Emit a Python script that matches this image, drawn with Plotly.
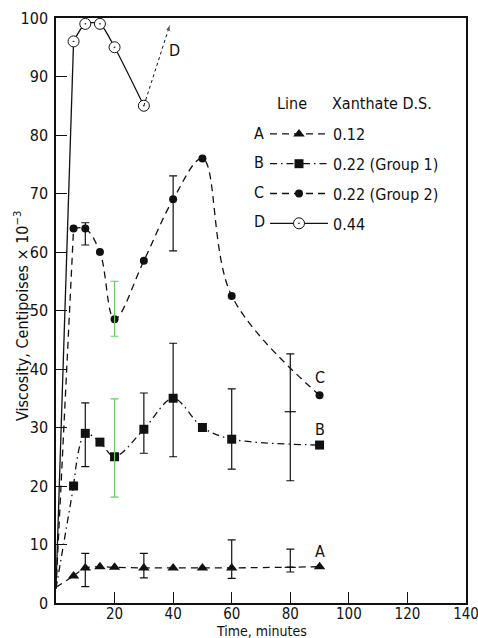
import plotly.graph_objects as go

# ---------------- data ----------------
t_pts = [6, 10, 15, 20, 30, 40, 50, 60, 90]
v_A = [4.6, 6.0, 6.2, 6.1, 6.0, 6.0, 6.0, 6.0, 6.2]
v_B = [20, 29, 27.5, 25, 29.7, 35, 30, 28, 27]
v_C = [64, 64, 60, 48.5, 58.5, 69, 76, 52.5, 35.5]
t_D = [6, 10, 15, 20, 30]
v_D = [96, 99, 99, 95, 85]
v_start = [2.7, 2.5, 2.5, 2.5]          # curves A-D start near the origin at t = 0
t_D_ext = [30, 39]                       # dotted arrow continuing curve D
v_D_ext = [85, 99]

# error bars: x, centre, upper, lower
errA_x = [10, 30, 60, 80]
errA_c = [6.0, 6.0, 6.0, 6.1]
errA_hi = [8.5, 8.5, 10.8, 9.2]
errA_lo = [2.8, 4.3, 4.2, 5.3]
errB_x = [10, 30, 40, 60, 80]
errB_c = [29, 29.7, 35, 28, 32.7]
errB_hi = [34.2, 35.9, 44.4, 36.6, 42.6]
errB_lo = [23.3, 25.6, 25.0, 22.9, 20.9]
errC_x = [10, 40]
errC_c = [64, 69]
errC_hi = [65, 73]
errC_lo = [61.2, 60.2]
errG_x = [20, 20]           # green bars (B and C at 20 min)
errG_c = [25, 48.5]
errG_hi = [34.9, 55]
errG_lo = [18.1, 45.6]

names = ["0.12", "0.22 (Group 1)", "0.22 (Group 2)", "0.44"]
letters = ["A", "B", "C", "D"]
x_ticks = [20, 40, 60, 80, 100, 120, 140]

FONT = "DejaVu Sans Condensed, Liberation Sans Narrow, sans-serif"
BLACK = "#111111"
GREEN = "#66cc66"

L, R, T, B = 56, 12, 18, 35
W, H = 478, 638
PW, PH = W - L - R, H - T - B


def px(x):
    return (x - L) / PW


def py(y):
    return (H - B - y) / PH


fig = go.Figure()

styles = [
    dict(dash="7px,5px", smoothing=0.8, symbol="triangle-up", size=10, mcolor=BLACK, lw=0),
    dict(dash="7px,4px,1.5px,4px", smoothing=0.9, symbol="square", size=9, mcolor=BLACK, lw=0),
    dict(dash="7px,5px", smoothing=1.0, symbol="circle", size=8, mcolor=BLACK, lw=0),
    dict(dash="solid", smoothing=0.7, symbol="circle-dot", size=11, mcolor="white", lw=1),
]
series_x = [t_pts, t_pts, t_pts, t_D]
series_y = [v_A, v_B, v_C, v_D]

# connectors from the origin region to the first measured point
for i in range(4):
    st = styles[i]
    fig.add_trace(go.Scatter(
        x=[0, series_x[i][0]], y=[v_start[i], series_y[i][0]], mode="lines", showlegend=False,
        line=dict(color=BLACK, width=1.3, dash=st["dash"])))

for i in range(4):
    st = styles[i]
    fig.add_trace(go.Scatter(
        x=series_x[i], y=series_y[i], name=names[i], mode="lines+markers",
        legendgroup=letters[i],
        line=dict(color=BLACK, width=1.3, dash=st["dash"], shape="spline", smoothing=st["smoothing"]),
        marker=dict(symbol=st["symbol"], size=st["size"], color=st["mcolor"],
                    line=dict(color=BLACK, width=st["lw"]))))

fig.add_trace(go.Scatter(
    x=t_D_ext, y=v_D_ext, mode="lines+markers", showlegend=False,
    line=dict(color=BLACK, width=1, dash="dot"),
    marker=dict(symbol="arrow", angleref="previous", size=[0, 8], color=BLACK)))


def err_trace(xs, cs, hi, lo, color):
    return go.Scatter(
        x=xs, y=cs, mode="markers", showlegend=False,
        marker=dict(size=1, color="rgba(0,0,0,0)"),
        error_y=dict(type="data", symmetric=False,
                     array=[h - c for h, c in zip(hi, cs)],
                     arrayminus=[c - l for l, c in zip(lo, cs)],
                     color=color, thickness=1.2, width=4))


fig.add_trace(err_trace(errA_x, errA_c, errA_hi, errA_lo, BLACK))
fig.add_trace(err_trace(errB_x, errB_c, errB_hi, errB_lo, BLACK))
fig.add_trace(err_trace(errC_x, errC_c, errC_hi, errC_lo, BLACK))
fig.add_trace(err_trace(errG_x, errG_c, errG_hi, errG_lo, GREEN))
# centre ticks on the 80-min bars
fig.add_trace(go.Scatter(
    x=[errA_x[-1], errB_x[-1]], y=[errA_c[-1], errB_c[-1]], mode="markers", showlegend=False,
    marker=dict(symbol="line-ew", size=8, line=dict(color=BLACK, width=1.2))))

TF = dict(family=FONT, size=16, color=BLACK)
annotations = []
# curve letters
for txt, xx, yy in [("A", 90, 8.8), ("B", 90, 29.6), ("C", 90, 38.6), ("D", 40.5, 94.5)]:
    annotations.append(dict(x=xx, y=yy, xref="x", yref="y", text=txt, showarrow=False,
                            xanchor="center", yanchor="middle", font=TF))
# legend header
annotations.append(dict(x=px(275), y=py(103), xref="paper", yref="paper", text="Line",
                        showarrow=False, xanchor="left", yanchor="middle", font=TF))
annotations.append(dict(x=px(330), y=py(103), xref="paper", yref="paper", text="Xanthate D.S.",
                        showarrow=False, xanchor="left", yanchor="middle", font=TF))
for lt, yy in zip(letters, [133, 162, 192, 221]):
    annotations.append(dict(x=px(259), y=py(yy), xref="paper", yref="paper", text=lt,
                            showarrow=False, xanchor="center", yanchor="middle", font=TF))
# axis titles
annotations.append(dict(x=0.5, y=py(631), xref="paper", yref="paper", text="Time, minutes",
                        showarrow=False, xanchor="center", yanchor="middle",
                        font=dict(family=FONT, size=14, color=BLACK)))
annotations.append(dict(x=px(21), y=py(316), xref="paper", yref="paper",
                        text="Viscosity, Centipoises × 10<sup>−3</sup>", textangle=-90,
                        showarrow=False, xanchor="center", yanchor="middle", font=TF))

fig.update_layout(
    width=W, height=H,
    margin=dict(l=L, r=R, t=T, b=B),
    paper_bgcolor="white", plot_bgcolor="white",
    font=TF,
    showlegend=True,
    legend=dict(x=px(265), y=py(117), xanchor="left", yanchor="top",
                bgcolor="rgba(0,0,0,0)", tracegroupgap=6, itemwidth=58, font=TF),
    annotations=annotations,
    xaxis=dict(range=[0, 140], tickvals=x_ticks, automargin=False,
               ticks="inside", ticklen=11, tickwidth=1.2, tickcolor=BLACK,
               ticklabelstandoff=-4, ticklabeloverflow="allow",
               tickfont=dict(family=FONT, size=15, color=BLACK),
               showline=True, linecolor=BLACK, linewidth=1.5, mirror=True,
               showgrid=False, zeroline=False),
    yaxis=dict(range=[0, 100], dtick=10, tick0=0, automargin=False,
               ticks="inside", ticklen=11, tickwidth=1.2, tickcolor=BLACK,
               ticklabelstandoff=3, ticklabeloverflow="allow",
               showline=True, linecolor=BLACK, linewidth=1.5, mirror=True,
               showgrid=False, zeroline=False),
)

fig.write_html("out.html")
